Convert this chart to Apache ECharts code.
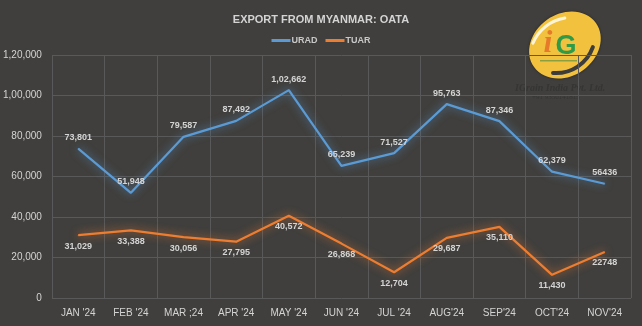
<!DOCTYPE html>
<html>
<head>
<meta charset="utf-8">
<style>
  html, body { margin: 0; padding: 0; background: #403f3d; }
  #chart { width: 642px; height: 326px; }
</style>
<script src="https://cdn.jsdelivr.net/npm/echarts@6/dist/echarts.min.js"></script>
</head>
<body>
<div id="chart"></div>
<script>
// Monthly oat export volumes from Myanmar
const months = ["JAN '24", "FEB '24", "MAR ;24", "APR '24", "MAY '24", "JUN '24", "JUL '24", "AUG'24", "SEP'24", "OCT'24", "NOV'24"];
const urad = [73801, 51948, 79587, 87492, 102662, 65239, 71527, 95763, 87346, 62379, 56436];
const tuar = [31029, 33388, 30056, 27795, 40572, 26868, 12704, 29687, 35110, 11430, 22748];
// the last month's figures are printed without digit grouping
const ungroupedIndex = [10];

// Indian digit grouping: 1,02,662
function indian(n) {
  const s = String(Math.round(n));
  if (s.length <= 3) return s;
  const last3 = s.slice(-3);
  let rest = s.slice(0, -3);
  const parts = [];
  while (rest.length > 2) { parts.unshift(rest.slice(-2)); rest = rest.slice(0, -2); }
  if (rest) parts.unshift(rest);
  return parts.join(',') + ',' + last3;
}
function labelFmt(p) {
  return ungroupedIndex.includes(p.dataIndex) ? String(p.value) : indian(p.value);
}

const txt = '#d4d4d4';
const font = 'Liberation Sans';
const chart = echarts.init(document.getElementById('chart'), null, { renderer: 'canvas' });

function lineSeries(name, data, color, glow, pos) {
  return {
    name: name,
    type: 'line',
    data: data,
    // tiny markers hidden under the stroke; they carry the value labels
    symbol: 'circle',
    symbolSize: 1,
    showSymbol: true,
    itemStyle: { color: color },
    color: color,
    lineStyle: { width: 2.2, color: color, shadowBlur: 8, shadowColor: glow },
    label: { show: true, position: pos, distance: 6, color: txt, fontSize: 9, fontWeight: 'bold', formatter: labelFmt },
    labelLayout: { hideOverlap: false },
    emphasis: { disabled: true }
  };
}

chart.setOption({
  backgroundColor: '#403f3d',
  animation: false,
  textStyle: { fontFamily: font },
  title: {
    text: 'EXPORT FROM MYANMAR: OATA',
    left: 'center',
    top: 9,
    textStyle: { color: txt, fontSize: 11, fontWeight: 'bold', fontFamily: font }
  },
  legend: {
    top: 31,
    left: 'center',
    itemWidth: 19,
    itemHeight: 3,
    itemGap: 8,
    icon: 'rect',
    textStyle: { color: '#c8c8c8', fontSize: 9, fontWeight: 'bold', padding: [0, 0, 0, -4] },
    data: ['URAD', 'TUAR']
  },
  grid: { left: 48, right: 11, top: 55, bottom: 28, containLabel: false },
  xAxis: {
    type: 'category',
    data: months,
    boundaryGap: true,
    axisLine: { show: false },
    axisTick: { show: false },
    splitLine: { show: true, lineStyle: { color: '#595959', width: 1 } },
    axisLabel: { color: txt, fontSize: 10, margin: 10, interval: 0 }
  },
  yAxis: {
    type: 'value',
    min: 0,
    max: 120000,
    interval: 20000,
    axisLine: { show: false },
    axisTick: { show: false },
    splitLine: { lineStyle: { color: '#595959', width: 1 } },
    axisLabel: { color: txt, fontSize: 10, margin: 10, formatter: v => indian(v) }
  },
  series: [
    lineSeries('URAD', urad, '#5b9bd5', 'rgba(91,155,213,0.8)', 'top'),
    lineSeries('TUAR', tuar, '#ed7d31', 'rgba(237,125,49,0.8)', 'bottom')
  ],
  graphic: [
    // company badge
    {
      type: 'group',
      x: 565, y: 45,
      silent: true,
      children: [
        { type: 'ellipse', shape: { cx: 0, cy: 0, rx: 38, ry: 31 }, rotation: 0.62,
          style: { fill: '#f2c23e', shadowBlur: 3, shadowColor: 'rgba(0,0,0,0.4)' } },
        { type: 'arc', shape: { cx: 6.6, cy: 14.5, r: 42, startAngle: 3.54, endAngle: 4.55, clockwise: true },
          style: { stroke: '#fffbe8', lineWidth: 3, fill: null, opacity: 0.9, lineCap: 'round' } },
        { type: 'arc', shape: { cx: -8.9, cy: -10.9, r: 39, startAngle: 0.34, endAngle: 1.65, clockwise: true },
          style: { stroke: '#3d3d3b', lineWidth: 4, fill: null, lineCap: 'round' } },
        { type: 'text', x: -17, y: -1, style: { text: 'i', fill: '#e67a2a', align: 'center', verticalAlign: 'middle', font: 'italic bold 32px "Liberation Serif"' } },
        { type: 'text', x: 1, y: 2, style: { text: 'G', fill: '#2f9a48', align: 'center', verticalAlign: 'middle', font: 'bold 27px "Liberation Sans"' } },
        { type: 'rect', shape: { x: -25, y: 15, width: 37, height: 1.5 }, style: { fill: '#8aa040' } }
      ]
    },
    {
      type: 'text', x: 515, y: 83, silent: true,
      style: { text: 'IGrain India Pvt. Ltd.', fill: '#353533', font: 'italic bold 10px "Liberation Serif"' }
    },
    {
      type: 'text', x: 532, y: 94, silent: true,
      style: { text: '+91 9350141815', fill: '#353533', font: '7px "Liberation Serif"' }
    }
  ]
});
</script>
</body>
</html>
